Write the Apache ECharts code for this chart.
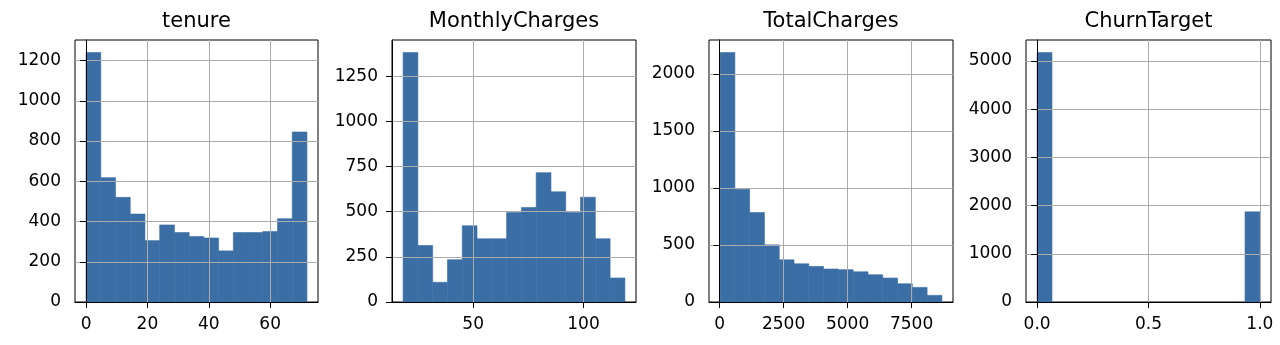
<!DOCTYPE html>
<html>
<head>
<meta charset="utf-8">
<script src="https://cdn.jsdelivr.net/npm/echarts@6/dist/echarts.min.js"></script>
<style>
  html, body { margin: 0; padding: 0; background: #fff; }
  #chart { width: 1280px; height: 345px; }
</style>
</head>
<body>
<div id="chart"></div>
<script>
// Histogram counts per column, 15 equal-width bins over each column's range
const titles = ['tenure', 'MonthlyCharges', 'TotalCharges', 'ChurnTarget'];

const tenureRange = [0, 72];
const tenureCounts = [1240, 618, 520, 437, 305, 383, 345, 325, 318, 254, 345, 345, 350, 414, 845];

const monthlyRange = [18.25, 118.75];
const monthlyCounts = [1381, 313, 109, 234, 422, 350, 350, 495, 523, 716, 610, 495, 580, 350, 133];

const totalRange = [18.8, 8684.8];
const totalCounts = [2187, 988, 784, 501, 370, 335, 312, 289, 283, 265, 239, 210, 160, 128, 58];

const churnRange = [0, 1];
const churnCounts = [5174, 0, 0, 0, 0, 0, 0, 0, 0, 0, 0, 0, 0, 0, 1869];

// Tick labels
const tenureXTicks = [0, 20, 40, 60];
const monthlyXTicks = [50, 100];
const totalXTicks = [0, 2500, 5000, 7500];
const churnXTicks = [0, 0.5, 1];

const tenureYTicks = [0, 200, 400, 600, 800, 1000, 1200];
const monthlyYTicks = [0, 250, 500, 750, 1000, 1250];
const totalYTicks = [0, 500, 1000, 1500, 2000];
const churnYTicks = [0, 1000, 2000, 3000, 4000, 5000];

const panels = [
  { range: tenureRange, counts: tenureCounts, xTicks: tenureXTicks, yTicks: tenureYTicks, xFmt: v => String(v) },
  { range: monthlyRange, counts: monthlyCounts, xTicks: monthlyXTicks, yTicks: monthlyYTicks, xFmt: v => String(v) },
  { range: totalRange, counts: totalCounts, xTicks: totalXTicks, yTicks: totalYTicks, xFmt: v => String(v) },
  { range: churnRange, counts: churnCounts, xTicks: churnXTicks, yTicks: churnYTicks, xFmt: v => v.toFixed(1) }
];

// Plot-area boxes (pixels)
const gridBoxes = [
  { left: 75, width: 243 },
  { left: 392, width: 244 },
  { left: 709, width: 244 },
  { left: 1026, width: 245 }
];
const TOP = 40, HEIGHT = 262;

const FONT = 'DejaVu Sans';
const BAR = '#3a6ea5';
const GRIDLINE = '#ababab';

function binData(range, counts) {
  const n = counts.length;
  const w = (range[1] - range[0]) / n;
  return counts.map((c, i) => [range[0] + i * w, range[0] + (i + 1) * w, c]);
}

const option = {
  backgroundColor: '#fff',
  animation: false,
  title: [],
  grid: [],
  xAxis: [],
  yAxis: [],
  series: []
};

panels.forEach((p, i) => {
  const g = gridBoxes[i];
  const span = p.range[1] - p.range[0];
  const xMin = p.range[0] - span * 0.05;
  const xMax = p.range[1] + span * 0.05;
  const yMax = Math.max(...p.counts) * 1.05;

  option.title.push({
    text: titles[i],
    left: g.left + g.width / 2,
    top: 11,
    textAlign: 'center',
    padding: 0,
    textStyle: { fontFamily: FONT, fontSize: 21, fontWeight: 'normal', color: '#000' }
  });

  option.grid.push({
    left: g.left, top: TOP, width: g.width, height: HEIGHT,
    show: true, borderColor: '#000', borderWidth: 1, backgroundColor: '#fff'
  });

  option.xAxis.push({
    type: 'value', gridIndex: i, min: xMin, max: xMax, z: 3,
    axisLine: { show: true, onZero: false, lineStyle: { color: '#000', width: 1 } },
    axisTick: { show: true, inside: false, length: 6, customValues: p.xTicks, lineStyle: { color: '#000', width: 1 } },
    axisLabel: { customValues: p.xTicks, margin: 14, fontFamily: FONT, fontSize: 17, color: '#000', formatter: p.xFmt },
    splitLine: { show: true, lineStyle: { color: GRIDLINE, width: 1 } }
  });

  option.yAxis.push({
    type: 'value', gridIndex: i, min: 0, max: yMax, z: 3,
    axisLine: { show: true, lineStyle: { color: '#000', width: 1 } },
    axisTick: { show: true, inside: false, length: 6, customValues: p.yTicks, lineStyle: { color: '#000', width: 1 } },
    axisLabel: { customValues: p.yTicks, margin: 14, fontFamily: FONT, fontSize: 17, color: '#000', formatter: v => String(v) },
    splitLine: { show: true, lineStyle: { color: GRIDLINE, width: 1 } }
  });

  option.series.push({
    type: 'custom',
    xAxisIndex: i, yAxisIndex: i, z: 2,
    data: binData(p.range, p.counts),
    encode: { x: [0, 1], y: 2 },
    renderItem: function (params, api) {
      const x0 = api.value(0), x1 = api.value(1), v = api.value(2);
      if (!v) return null;
      const a = api.coord([x0, v]);
      const b = api.coord([x1, 0]);
      return {
        type: 'rect',
        shape: { x: a[0], y: a[1], width: b[0] - a[0], height: b[1] - a[1] },
        style: { fill: BAR, stroke: BAR, lineWidth: 0.6 }
      };
    }
  });
});

const chart = echarts.init(document.getElementById('chart'), null, { renderer: 'canvas' });
chart.setOption(option);
</script>
</body>
</html>
